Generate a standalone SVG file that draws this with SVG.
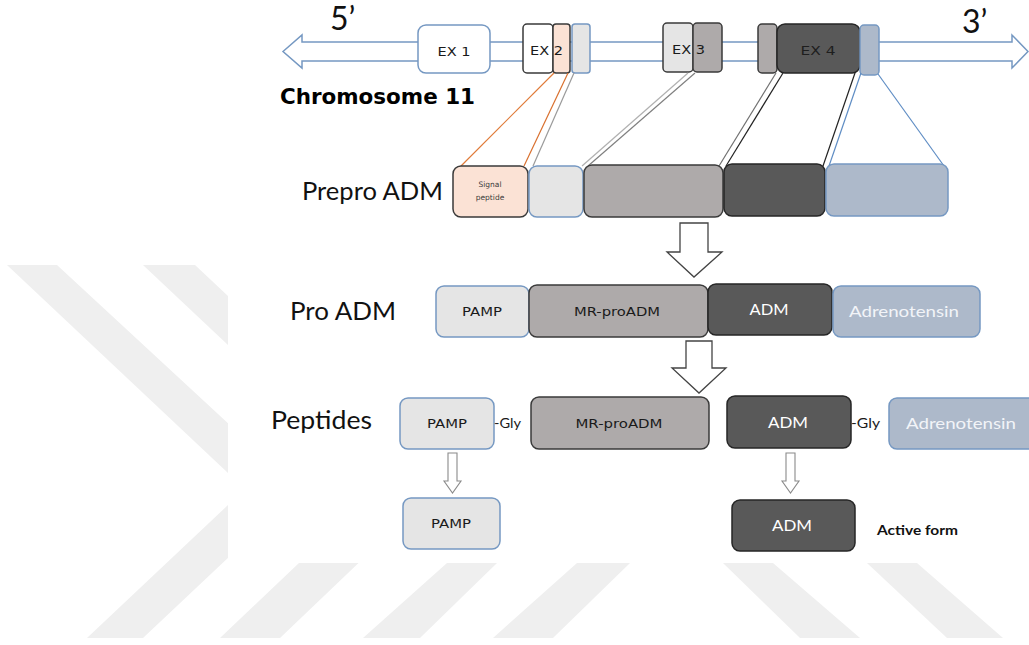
<svg xmlns="http://www.w3.org/2000/svg" width="1029" height="645" viewBox="0 0 1029 645">
  <defs>
    <style>
      .wm { fill: #efefef; }
      .box { stroke-width: 1.5; }
      .wht { fill: #ffffff; stroke: #7598c2; }
      .whd { fill: #ffffff; stroke: #3a3a3a; }
      .pch { fill: #fbe2d5; stroke: #3a3a3a; }
      .lgb { fill: #e5e5e5; stroke: #7598c2; }
      .lgd { fill: #e5e5e5; stroke: #3a3a3a; }
      .gry { fill: #aeaaaa; stroke: #3a3a3a; }
      .drk { fill: #595959; stroke: #262626; }
      .blu { fill: #adb9ca; stroke: #7598c2; }
      .big { font-family: Lato, "Liberation Sans", sans-serif; font-size: 24.5px; fill: #111; }
      .prime { font-family: Lato, "Liberation Sans", sans-serif; font-size: 32px; fill: #111; }
      .lab { font-family: "DejaVu Sans", Verdana, sans-serif; font-size: 13px; fill: #1a1a1a; text-anchor: middle; }
      .cal { font-family: Lato, "Liberation Sans", sans-serif; font-size: 16px; text-anchor: middle; }
      .sml { font-family: Lato, "Liberation Sans", sans-serif; font-size: 12.5px; fill: #1a1a1a; }
      .tiny { font-family: "DejaVu Sans", sans-serif; font-size: 7.5px; fill: #3a3a3a; text-anchor: middle; }
      .line { fill: none; stroke-width: 1.2; }
      .blk { fill: #ffffff; stroke: #444; stroke-width: 1.3; stroke-linejoin: miter; }
      .sarr { fill: #ffffff; stroke: #8a8a8a; stroke-width: 1.1; }
    </style>
    <clipPath id="wmClip">
      <rect x="0" y="0" width="228" height="645"/>
      <rect x="228" y="563" width="801" height="82"/>
    </clipPath>
  </defs>

  <rect x="0" y="0" width="1029" height="645" fill="#ffffff"/>

  <!-- faint background stripes -->
  <g id="watermark" clip-path="url(#wmClip)">
    <polygon class="wm" points="7,265 57,265 300,490 143,638 87,638 245,489"/>
    <polygon class="wm" points="143,265 195,265 435,490 280,638 220,638 379,487"/>
    <polygon class="wm" points="447,563 497,563 420,638 363,638"/>
    <polygon class="wm" points="577,563 630,563 553,638 493,638"/>
    <polygon class="wm" points="723,563 773,563 860,638 800,638"/>
    <polygon class="wm" points="867,563 917,563 1003,638 947,638"/>
  </g>

  <!-- chromosome strand -->
  <g id="chromosome">
    <path d="M283,51.5 L302,35 L302,42 L1012,42 L1012,35 L1028,51.5 L1012,68 L1012,61 L302,61 L302,68 Z" fill="#ffffff" stroke="#7598c2" stroke-width="1.5"/>
    <text class="prime" x="330" y="30">5’</text>
    <text class="prime" x="962" y="33">3’</text>
    <text x="280" y="104" font-family="'DejaVu Sans', Verdana, sans-serif" font-weight="bold" font-size="21.5" textLength="195" lengthAdjust="spacingAndGlyphs" fill="#000">Chromosome 11</text>
  </g>

  <g id="ex1">
    <rect class="box wht" x="418" y="25" width="72" height="48" rx="8"/>
    <text class="lab" x="454" y="56" textLength="33" lengthAdjust="spacingAndGlyphs">EX 1</text>
  </g>
  <g id="ex2">
    <rect class="box whd" x="523" y="24" width="30" height="49" rx="4"/>
    <rect class="box pch" x="553" y="24" width="17" height="49" rx="3"/>
    <rect class="box lgb" x="572" y="24" width="18" height="49" rx="3"/>
    <text class="lab" x="530" y="55" style="text-anchor:start" textLength="33" lengthAdjust="spacingAndGlyphs">EX 2</text>
  </g>
  <g id="ex3">
    <rect class="box lgd" x="663" y="23" width="30" height="49" rx="4"/>
    <rect class="box gry" x="693" y="23" width="29" height="49" rx="4"/>
    <text class="lab" x="672" y="54" style="text-anchor:start" textLength="33" lengthAdjust="spacingAndGlyphs">EX 3</text>
  </g>
  <g id="ex4">
    <rect class="box gry" x="758" y="24" width="19" height="49" rx="4"/>
    <rect class="box drk" x="777" y="24" width="83" height="49" rx="8"/>
    <rect class="box blu" x="860" y="25" width="19" height="50" rx="4"/>
    <text class="lab" x="818" y="55" textLength="35" lengthAdjust="spacingAndGlyphs" style="fill:#1e1e1e">EX 4</text>
  </g>

  <!-- exon-to-protein mapping lines and processing arrows -->
  <g id="connectors">
    <line class="line" x1="554" y1="73" x2="461" y2="166" stroke="#e07b39"/>
    <line class="line" x1="568" y1="73" x2="524" y2="166" stroke="#d9702e"/>
    <line class="line" x1="574" y1="73" x2="533" y2="166" stroke="#9a9a9a"/>
    <line class="line" x1="688" y1="73" x2="582" y2="166" stroke="#b0b0b0"/>
    <line class="line" x1="695" y1="73" x2="588" y2="166" stroke="#808080"/>
    <line class="line" x1="776" y1="73" x2="719" y2="166" stroke="#707070"/>
    <line class="line" x1="783" y1="73" x2="726" y2="166" stroke="#222222"/>
    <line class="line" x1="855" y1="73" x2="823" y2="166" stroke="#222222"/>
    <line class="line" x1="861" y1="73" x2="829" y2="166" stroke="#5f8dc4"/>
    <line class="line" x1="878" y1="74" x2="944" y2="166" stroke="#5f8dc4"/>

    <path class="blk" d="M680,223 L708,223 L708,252 L722,252 L694,277 L667,252 L680,252 Z"/>
    <path class="blk" d="M686,341 L712,341 L712,368 L726,368 L699,393 L672,368 L686,368 Z"/>
    <path class="sarr" d="M448,453 L457,453 L457,481 L461,481 L452.5,493 L444,481 L448,481 Z"/>
    <path class="sarr" d="M786,453 L795,453 L795,481 L799,481 L790.5,493 L782,481 L786,481 Z"/>
  </g>

  <g id="prepro-adm">
    <text class="big" x="302" y="200" textLength="141" lengthAdjust="spacingAndGlyphs">Prepro ADM</text>
    <rect class="box pch" x="453" y="166" width="75" height="51" rx="8"/>
    <text class="tiny" x="490" y="187">Signal</text>
    <text class="tiny" x="490" y="200">peptide</text>
    <rect class="box lgb" x="529" y="166" width="54" height="51" rx="8"/>
    <rect class="box gry" x="584" y="165" width="139" height="52" rx="8"/>
    <rect class="box drk" x="724" y="164" width="101" height="52" rx="8"/>
    <rect class="box blu" x="826" y="164" width="122" height="52" rx="8"/>
  </g>

  <g id="pro-adm">
    <text class="big" x="290" y="320" textLength="106" lengthAdjust="spacingAndGlyphs">Pro ADM</text>
    <rect class="box lgb" x="436" y="286" width="93" height="51" rx="8"/>
    <text class="lab" x="482" y="316" textLength="40" lengthAdjust="spacingAndGlyphs">PAMP</text>
    <rect class="box gry" x="529" y="285" width="179" height="52" rx="8"/>
    <text class="lab" x="617" y="316" textLength="86" lengthAdjust="spacingAndGlyphs">MR-proADM</text>
    <rect class="box drk" x="708" y="284" width="124" height="51" rx="8"/>
    <text class="cal" x="769" y="315" fill="#ffffff" textLength="39" lengthAdjust="spacingAndGlyphs">ADM</text>
    <rect class="box blu" x="833" y="286" width="147" height="51" rx="8"/>
    <text class="cal" x="904" y="317" fill="#f2f4f8" textLength="110" lengthAdjust="spacingAndGlyphs">Adrenotensin</text>
  </g>

  <g id="peptides">
    <text class="big" x="271" y="429" textLength="101" lengthAdjust="spacingAndGlyphs">Peptides</text>
    <rect class="box lgb" x="400" y="398" width="94" height="51" rx="8"/>
    <text class="lab" x="447" y="428" textLength="40" lengthAdjust="spacingAndGlyphs">PAMP</text>
    <text class="sml" x="494" y="428" textLength="27" lengthAdjust="spacingAndGlyphs">-Gly</text>
    <rect class="box gry" x="531" y="397" width="178" height="52" rx="8"/>
    <text class="lab" x="619" y="428" textLength="87" lengthAdjust="spacingAndGlyphs">MR-proADM</text>
    <rect class="box drk" x="727" y="396" width="124" height="52" rx="8"/>
    <text class="cal" x="788" y="428" fill="#ffffff" textLength="40" lengthAdjust="spacingAndGlyphs">ADM</text>
    <text class="sml" x="851" y="428" textLength="29" lengthAdjust="spacingAndGlyphs">-Gly</text>
    <rect class="box blu" x="889" y="398" width="150" height="51" rx="8"/>
    <text class="cal" x="961" y="429" fill="#f2f4f8" textLength="110" lengthAdjust="spacingAndGlyphs">Adrenotensin</text>
  </g>

  <g id="pamp-mature">
    <rect class="box lgb" x="403" y="498" width="97" height="51" rx="8"/>
    <text class="lab" x="451" y="528" textLength="40" lengthAdjust="spacingAndGlyphs">PAMP</text>
  </g>
  <g id="adm-active">
    <rect class="box drk" x="732" y="500" width="123" height="51" rx="8"/>
    <text class="cal" x="792" y="531" fill="#ffffff" textLength="40" lengthAdjust="spacingAndGlyphs">ADM</text>
    <text x="877" y="535" font-family="Lato, 'Liberation Sans', sans-serif" font-weight="bold" font-size="13" textLength="81" lengthAdjust="spacingAndGlyphs" fill="#111">Active form</text>
  </g>
</svg>
